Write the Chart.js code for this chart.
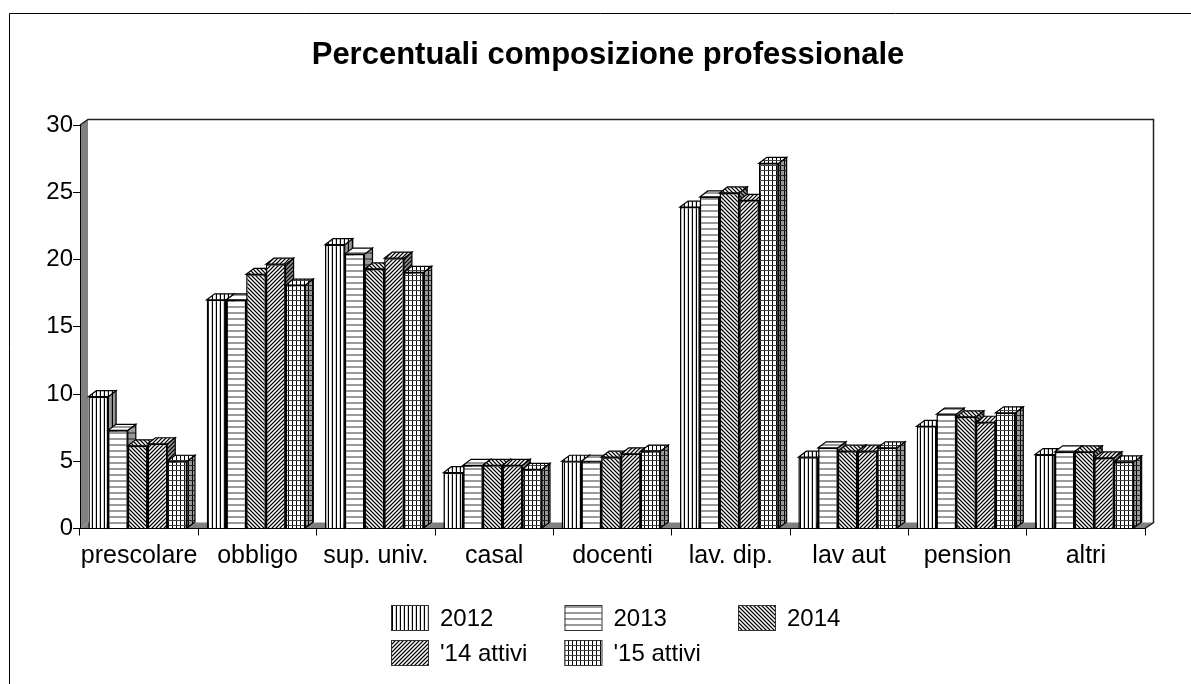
<!DOCTYPE html>
<html>
<head>
<meta charset="utf-8">
<title>Percentuali composizione professionale</title>
<script src="https://cdn.jsdelivr.net/npm/chart.js@4"></script>
<style>
  html, body { margin: 0; padding: 0; background: #fff; overflow: hidden; }
  canvas { display: block; }
</style>
</head>
<body>
<canvas id="chart" width="1191" height="684"></canvas>
<script>
// Data
const categories = ['prescolare', 'obbligo', 'sup. univ.', 'casal', 'docenti', 'lav. dip.', 'lav aut', 'pension', 'altri'];
const seriesNames = ['2012', '2013', '2014', "'14 attivi", "'15 attivi"];
const values2012 = [9.8, 17.0, 21.1, 4.15, 5.0, 23.9, 5.3, 7.6, 5.5];
const values2013 = [7.3, 17.0, 20.4, 4.7, 5.0, 24.65, 6.0, 8.5, 5.7];
const values2014 = [6.15, 18.9, 19.3, 4.7, 5.3, 24.95, 5.75, 8.3, 5.7];
const valuesActive14 = [6.3, 19.65, 20.1, 4.7, 5.55, 24.4, 5.75, 7.9, 5.25];
const valuesActive15 = [5.0, 18.1, 19.05, 4.4, 5.75, 27.15, 6.0, 8.6, 4.95];
const yTicks = [0, 5, 10, 15, 20, 25, 30];

const FONT = '"Liberation Sans", Arial, sans-serif';
const DEPTH_X = 8;
const DEPTH_Y = 6;

// Pixel tiles for the old style hatch fills
const SHADES = { k: '#000000', d: '#444444', g: '#9a9a9a', l: '#d0d0d0', '.': '#ffffff' };

function makePattern(rows) {
    const tile = document.createElement('canvas');
    tile.width = rows[0].length;
    tile.height = rows.length;
    const t = tile.getContext('2d');
    rows.forEach((row, y) => {
        [...row].forEach((c, x) => {
            t.fillStyle = SHADES[c];
            t.fillRect(x, y, 1, 1);
        });
    });
    return document.getElementById('chart').getContext('2d').createPattern(tile, 'repeat');
}

const patterns = [
    makePattern(['k..l']),
    makePattern(['g', 'g', '.', '.', '.', '.']),
    makePattern(['kg.g', 'gkg.', '.gkg', 'g.gk']),
    makePattern(['g.gk', '.gkg', 'gkg.', 'kg.g']),
    makePattern(['dddd', 'k...', 'k...', 'k...', 'k...'])
];
const seriesValues = [values2012, values2013, values2014, valuesActive14, valuesActive15];

function poly(ctx, pts) {
    ctx.beginPath();
    pts.forEach((p, i) => i ? ctx.lineTo(p[0], p[1]) : ctx.moveTo(p[0], p[1]));
    ctx.closePath();
}

// Frame, gray left wall, floor and back wall outline
const wallPlugin = {
    id: 'wall',
    beforeDraw(chart) {
        const { ctx, chartArea: a } = chart;
        ctx.save();
        ctx.strokeStyle = '#000';
        ctx.lineWidth = 1;
        ctx.beginPath();
        ctx.moveTo(9.5, 684);
        ctx.lineTo(9.5, 13.5);
        ctx.lineTo(1191, 13.5);
        ctx.stroke();

        ctx.fillStyle = '#808080';
        poly(ctx, [[a.left, a.bottom], [a.left + DEPTH_X, a.bottom - DEPTH_Y], [a.left + DEPTH_X, a.top - DEPTH_Y], [a.left, a.top]]);
        ctx.fill();
        poly(ctx, [[a.left, a.bottom], [a.left + DEPTH_X, a.bottom - DEPTH_Y], [a.right + DEPTH_X, a.bottom - DEPTH_Y], [a.right, a.bottom]]);
        ctx.fill();

        ctx.strokeStyle = '#222';
        ctx.lineWidth = 1.5;
        ctx.beginPath();
        ctx.moveTo(a.left, a.top);
        ctx.lineTo(a.left + DEPTH_X, a.top - DEPTH_Y + 0.5);
        ctx.lineTo(a.right + DEPTH_X + 0.5, a.top - DEPTH_Y + 0.5);
        ctx.lineTo(a.right + DEPTH_X + 0.5, a.bottom - DEPTH_Y);
        ctx.lineTo(a.right, a.bottom);
        ctx.stroke();
        ctx.restore();
    }
};

// Bars go left to right so a bar covers the side face of the one before it.
// Chart.js draws dataset 0 last, so the drawing is done here instead.
const depthPlugin = {
    id: 'depth',
    afterDatasetsUpdate(chart) {
        chart.data.datasets.forEach((ds, i) => {
            chart.getDatasetMeta(i).data.forEach(bar => { bar.x -= 1.5; });
        });
    },
    beforeDatasetDraw() {
        return false;
    },
    beforeDatasetsDraw(chart) {
        const { ctx } = chart;
        chart.data.datasets.forEach((ds, i) => {
            const fill = patterns[i];
            chart.getDatasetMeta(i).data.forEach(bar => {
                const l = bar.x - bar.width / 2;
                const r = bar.x + bar.width / 2;
                ctx.save();
                ctx.strokeStyle = '#000';
                ctx.lineWidth = 1.2;
                poly(ctx, [[r, bar.y], [r + DEPTH_X, bar.y - DEPTH_Y], [r + DEPTH_X, bar.base - DEPTH_Y], [r, bar.base]]);
                ctx.fillStyle = fill;
                ctx.fill();
                ctx.fillStyle = 'rgba(0,0,0,0.4)';
                ctx.fill();
                ctx.stroke();
                poly(ctx, [[l, bar.y], [l + DEPTH_X, bar.y - DEPTH_Y], [r + DEPTH_X, bar.y - DEPTH_Y], [r, bar.y]]);
                ctx.fillStyle = fill;
                ctx.fill();
                ctx.stroke();
                ctx.restore();
                bar.draw(ctx);
            });
        });
    },
    afterLayout(chart) {
        // Title sits a little right of the page centre
        chart.titleBlock.left = 71;
    }
};

// Legend is a fixed 3 column grid in the reference, so it is drawn by hand
const gridLegendPlugin = {
    id: 'gridLegend',
    afterDraw(chart) {
        const { ctx } = chart;
        const columns = [391, 564.5, 738];
        const rowsY = [605, 640];
        ctx.save();
        ctx.font = '24px ' + FONT;
        ctx.textBaseline = 'middle';
        ctx.textAlign = 'left';
        chart.data.datasets.forEach((ds, i) => {
            const x = columns[i % 3];
            const y = rowsY[Math.floor(i / 3)];
            ctx.fillStyle = patterns[i];
            ctx.fillRect(x, y, 37, 26);
            ctx.strokeStyle = '#333';
            ctx.lineWidth = 1;
            ctx.strokeRect(x + 0.5, y + 0.5, 37, 25);
            ctx.fillStyle = '#000';
            ctx.fillText(ds.label, x + 49, y + 14);
        });
        ctx.restore();
    }
};

new Chart(document.getElementById('chart').getContext('2d'), {
    type: 'bar',
    data: {
        labels: categories,
        datasets: seriesNames.map((name, i) => ({
            label: name,
            data: seriesValues[i],
            backgroundColor: patterns[i],
            borderColor: '#000',
            borderWidth: 1.5
        }))
    },
    options: {
        responsive: false,
        animation: false,
        categoryPercentage: 5 / 6,
        barPercentage: 1,
        layout: { padding: { left: 0, right: 46, top: 0, bottom: 0 } },
        plugins: {
            legend: { display: false },
            tooltip: { enabled: false },
            title: {
                display: true,
                text: 'Percentuali composizione professionale',
                color: '#000',
                font: { family: FONT, size: 31, weight: 'bold' },
                padding: { top: 37, bottom: 50.8 }
            }
        },
        scales: {
            x: {
                afterFit(scale) { scale.height = 155.5; },
                grid: { drawOnChartArea: false, color: '#000', tickColor: '#000', tickLength: 7 },
                border: { color: '#000' },
                ticks: {
                    color: '#000',
                    font: { family: FONT, size: 25 },
                    padding: 6,
                    maxRotation: 0,
                    autoSkip: false
                }
            },
            y: {
                min: 0,
                max: 30,
                afterFit(scale) { scale.width = 80; },
                afterBuildTicks(scale) { scale.ticks = yTicks.map(v => ({ value: v })); },
                grid: { drawOnChartArea: false, color: '#000', tickColor: '#000', tickLength: 7 },
                border: { color: '#000' },
                ticks: {
                    color: '#000',
                    font: { family: FONT, size: 24 },
                    padding: 0
                }
            }
        }
    },
    plugins: [wallPlugin, depthPlugin, gridLegendPlugin]
});
</script>
</body>
</html>
